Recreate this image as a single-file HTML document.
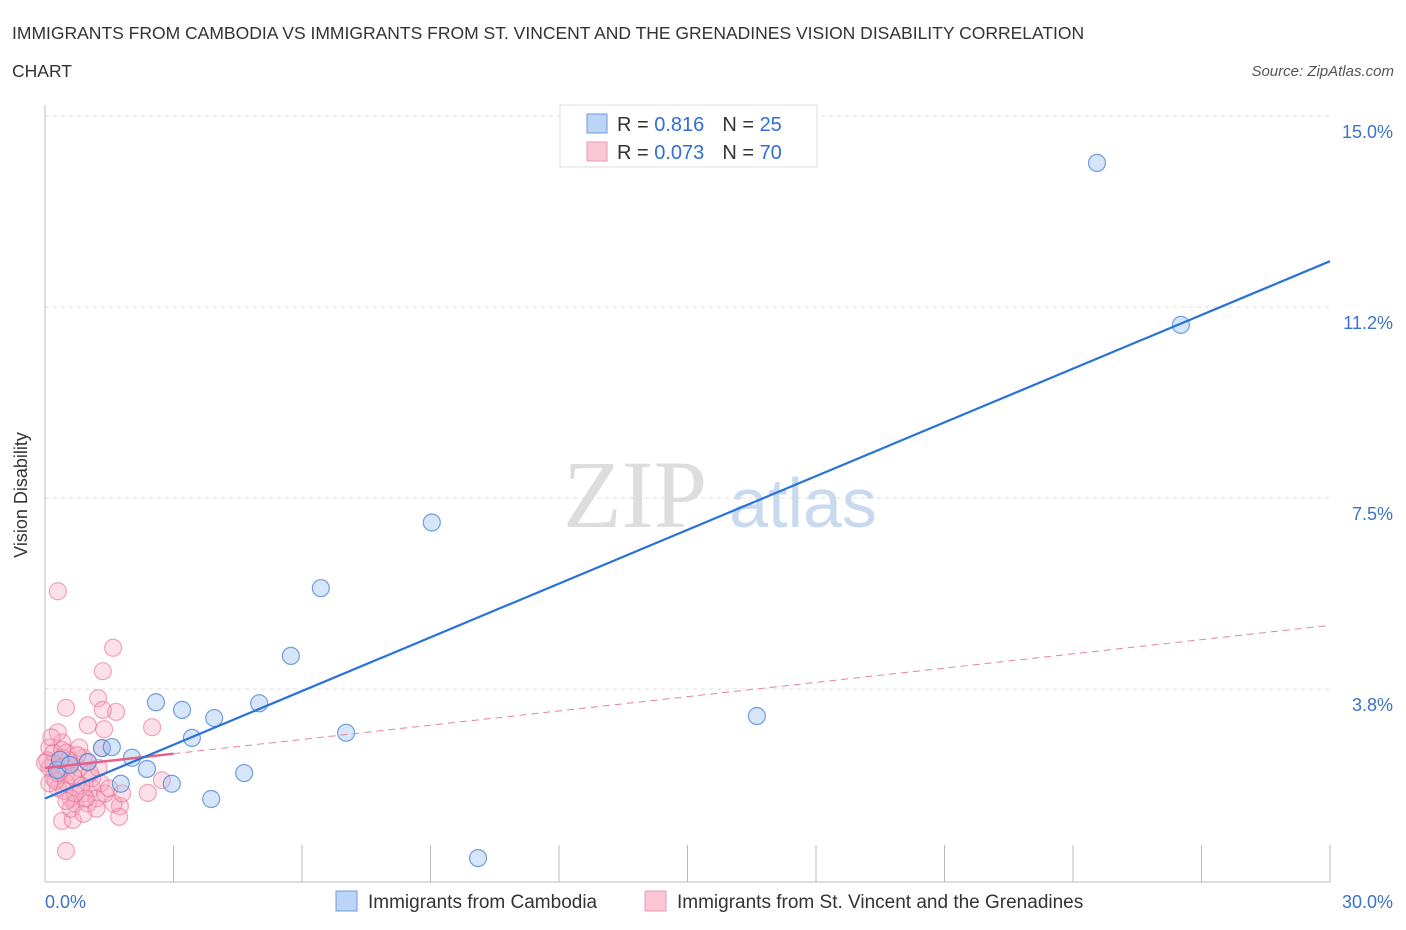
<!DOCTYPE html>
<html><head><meta charset="utf-8">
<style>
body{margin:0;background:#fff;font-family:"Liberation Sans",sans-serif;}
svg{display:block}
</style></head>
<body>
<svg id="chart" width="1406" height="930">
<text x="12" y="39" font-size="17.5" fill="#333">IMMIGRANTS FROM CAMBODIA VS IMMIGRANTS FROM ST. VINCENT AND THE GRENADINES VISION DISABILITY CORRELATION</text>
<text x="12" y="77" font-size="17.5" fill="#333">CHART</text>
<text x="1394" y="76" font-size="15" fill="#555" font-style="italic" text-anchor="end">Source: ZipAtlas.com</text>
<text x="27" y="495" font-size="18" fill="#333" text-anchor="middle" transform="rotate(-90 27 495)">Vision Disability</text>
<g>
<text x="635" y="527" font-size="96" fill="#ddd" font-family="Liberation Serif,serif" text-anchor="middle">ZIP</text>
<text x="803" y="527" font-size="70" fill="#c9daf0" text-anchor="middle">atlas</text>
</g>
<g id="grid"></g>
<g id="axes"></g>
<g id="pink"></g>
<g id="blue"></g>
<g id="lines"></g>
<g>
<rect x="560" y="105" width="257" height="62" fill="#fff" stroke="#ddd"/>
<rect x="587" y="114" width="20" height="19" fill="#bcd4f5" stroke="#6d9be0"/>
<rect x="587" y="142" width="20" height="19" fill="#f9c6d4" stroke="#ec9ab2"/>
<text x="617" y="131" font-size="20" fill="#333">R = <tspan fill="#2f6fd6"> 0.816</tspan><tspan dx="18">N = </tspan><tspan fill="#2f6fd6">25</tspan></text>
<text x="617" y="159" font-size="20" fill="#333">R = <tspan fill="#2f6fd6">0.073</tspan><tspan dx="18">N = </tspan><tspan fill="#2f6fd6">70</tspan></text>
</g>
<g>
<rect x="336" y="891" width="21" height="20" fill="#bcd4f5" stroke="#6d9be0"/>
<text x="368" y="908" font-size="19" fill="#333">Immigrants from Cambodia</text>
<rect x="645" y="891" width="21" height="20" fill="#f9c6d4" stroke="#ec9ab2"/>
<text x="677" y="908" font-size="19" fill="#333">Immigrants from St. Vincent and the Grenadines</text>
</g>
</svg>
<script>
const yTicks=[15.0,11.25,7.5,3.75];
const yTickLabels=["15.0%","11.2%","7.5%","3.8%"];
const xTickLabels=["0.0%","30.0%"];
const blueX=[24.56,26.52,9.03,6.44,5.74,16.62,2.59,3.20,3.95,5.00,7.03,3.43,1.33,1.56,2.03,2.38,1.00,1.77,2.96,4.65,3.88,10.11,0.28,0.35,0.58];
const blueY=[14.08,10.90,7.02,5.73,4.40,3.22,3.49,3.34,3.18,3.47,2.89,2.79,2.59,2.61,2.40,2.18,2.32,1.89,1.89,2.10,1.59,0.43,2.16,2.36,2.26];
const pinkX=[0.30,1.59,1.35,1.24,0.49,1.66,1.35,1.00,1.38,2.50,1.33,2.73,2.40,1.75,1.73,0.49,0.40,0.65,
0.1,0.2,0.3,0.4,0.5,0.6,0.7,0.8,0.9,1.0,0.2,0.3,0.5,0.6,0.7,0.9,1.1,1.2,1.4,1.0,0.4,0.3,0.1,0.2,0.5,0.8,1.1,1.3,1.5,1.6,0.6,0.9,0.15,0.35,0.45,0.65,0.75,1.05,0.25,0.55,1.2,1.8,0.05,0.4,0.85,0.95,0.7,1.25,0.3,0.5,0.0,0.1];
const pinkY=[5.67,4.56,4.10,3.57,3.38,3.30,3.34,3.04,2.96,3.00,2.59,1.96,1.71,1.45,1.24,0.57,1.16,1.18,
2.6,2.3,2.2,2.4,2.1,2.3,2.0,2.2,2.4,2.3,2.0,1.8,1.9,1.6,1.5,1.7,1.8,1.6,1.7,1.5,2.7,2.9,2.2,2.5,2.5,2.6,2.0,1.9,1.8,1.5,1.4,1.3,2.8,2.15,1.75,2.05,2.45,2.1,1.95,2.35,1.4,1.7,2.35,2.55,1.85,1.6,1.7,2.2,2.1,1.55,2.3,1.9];
const blueLine=[0,1.6,30,12.15];
const pinkLine=[0,2.2,30,5.0];
const pinkSolidEnd=3.0;

const NS="http://www.w3.org/2000/svg";
const X=v=>45+v/30*1285;
const Y=v=>880-v*50.93;
function mk(tag,attrs,parent){const e=document.createElementNS(NS,tag);for(const k in attrs)e.setAttribute(k,attrs[k]);parent.appendChild(e);return e;}
const grid=document.getElementById('grid'),axes=document.getElementById('axes');
yTicks.forEach((t,i)=>{
 const g=mk('line',{x1:45,x2:1330,y1:Y(t),y2:Y(t),stroke:'#ddd','stroke-dasharray':'4,4'},grid);
 
 
 const tx=mk('text',{x:1393,y:Y(t)+22,'font-size':18,fill:'#3d72c8','text-anchor':'end'},axes);
 tx.textContent=yTickLabels[i];
 
 
});
const ax=mk('line',{x1:45,x2:45,y1:105,y2:882,stroke:'#bbb'},axes);


const bx=mk('line',{x1:45,x2:1330,y1:882,y2:882,stroke:'#bbb'},axes);


for(let i=1;i<=10;i++){
 const t=mk('line',{x1:X(i*3),x2:X(i*3),y1:845,y2:882,stroke:'#bbb'},axes);
 
 
}
[[0,'start',45],[30,'end',1393]].forEach((d,i)=>{
 const t=mk('text',{x:d[2],y:908,'font-size':18,fill:'#3d72c8','text-anchor':d[1]},axes);
 t.textContent=xTickLabels[i];
 
 
});
const pg=document.getElementById('pink');
pinkX.forEach((x,i)=>{
 const c=mk('circle',{cx:X(x),cy:Y(pinkY[i]),r:8.5,fill:'rgba(245,165,190,0.35)',stroke:'rgba(232,110,150,0.6)','stroke-width':1.2},pg);
 
 
});
const bg=document.getElementById('blue');
blueX.forEach((x,i)=>{
 const c=mk('circle',{cx:X(x),cy:Y(blueY[i]),r:8.5,fill:'rgba(165,198,240,0.45)',stroke:'rgba(70,130,215,0.75)','stroke-width':1.2},bg);
 
 
});
const lg=document.getElementById('lines');
const pAt=x=>pinkLine[1]+(pinkLine[3]-pinkLine[1])*(x-pinkLine[0])/(pinkLine[2]-pinkLine[0]);
const pd=mk('line',{x1:X(pinkSolidEnd),y1:Y(pAt(pinkSolidEnd)),x2:X(pinkLine[2]),y2:Y(pinkLine[3]),stroke:'#e8839f','stroke-width':1,'stroke-dasharray':'7,5'},lg);


const ps=mk('line',{x1:X(pinkLine[0]),y1:Y(pinkLine[1]),x2:X(pinkSolidEnd),y2:Y(pAt(pinkSolidEnd)),stroke:'#e5608a','stroke-width':2.5},lg);


const bl=mk('line',{x1:X(blueLine[0]),y1:Y(blueLine[1]),x2:X(blueLine[2]),y2:Y(blueLine[3]),stroke:'#2a72d8','stroke-width':2.2},lg);


</script>
</body></html>
